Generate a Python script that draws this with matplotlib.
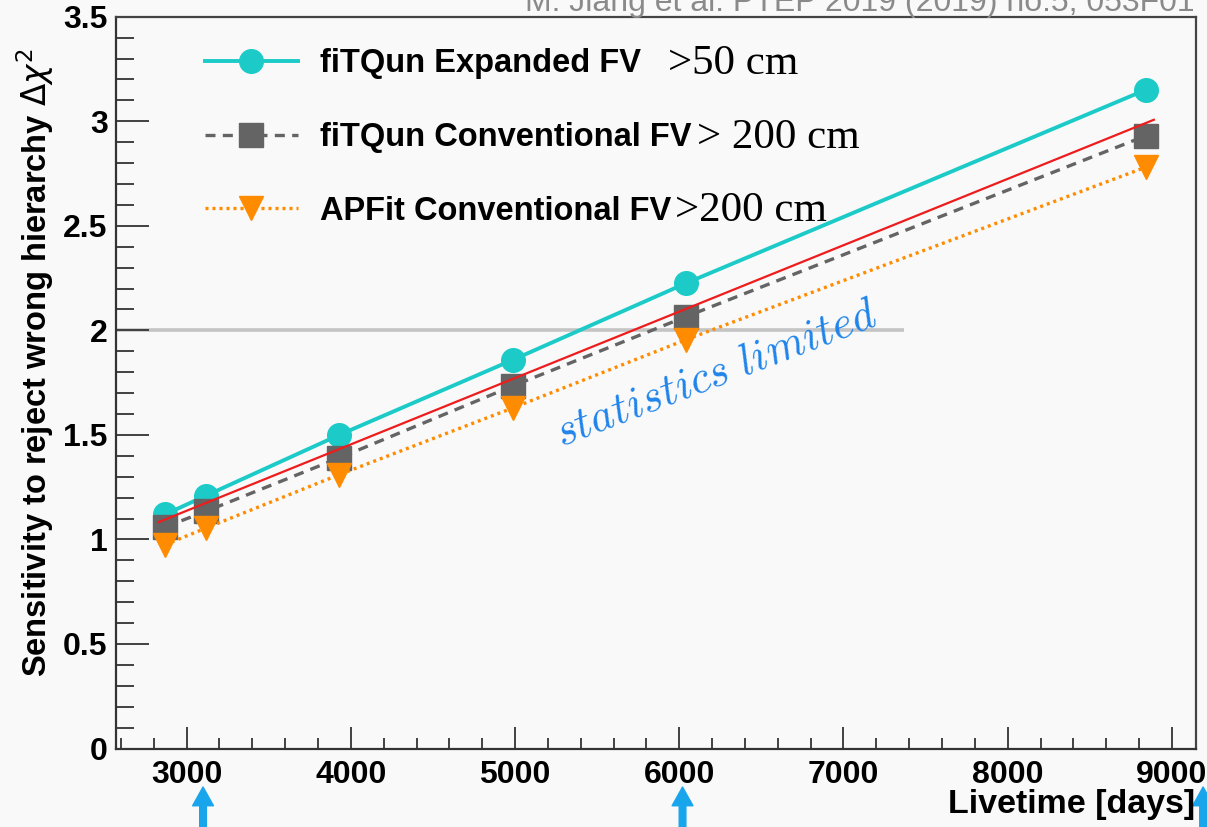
import matplotlib
matplotlib.use("Agg")
import matplotlib.pyplot as plt
from matplotlib.ticker import MultipleLocator
import matplotlib.transforms as mtransforms

# ---------------- data ----------------
livetime = [2870, 3120, 3930, 4990, 6040, 8840]
fitqun_expanded = [1.12, 1.21, 1.50, 1.86, 2.225, 3.15]
fitqun_conventional = [1.06, 1.135, 1.39, 1.735, 2.065, 2.93]
apfit_conventional = [0.975, 1.055, 1.31, 1.63, 1.955, 2.78]

red_line_x = [2830, 8890]
red_line_y = [1.083, 3.007]

threshold_y = 2.0
threshold_x_end = 7370

labels = ["fiTQun Expanded FV", "fiTQun Conventional FV", "APFit Conventional FV"]
label_suffix = [">50 cm", "> 200 cm", ">200 cm"]

arrow_x = [3100, 6020, 9190]

citation = "M. Jiang et al. PTEP 2019 (2019) no.5, 053F01"

# ---------------- figure ----------------
W, H = 1207, 827
bg = "#f9f9f9"
fig = plt.figure(figsize=(W / 100, H / 100), dpi=100, facecolor=bg)
ax = fig.add_axes([116 / W, 1 - 748.5 / H, (1195.7 - 116) / W, (748.5 - 16.7) / H])
ax.set_facecolor(bg)

sans = "Liberation Sans"
serif = "Liberation Serif"

cyan = "#1ccbc8"
grey = "#646464"
orange = "#ff8c00"

ax.hlines(threshold_y, 2570, threshold_x_end, color="#c4c4c4", lw=2.6, zorder=1)

l1, = ax.plot(livetime, fitqun_expanded, color=cyan, lw=2.8, marker="o", ms=17,
              mec=cyan, mfc=cyan, zorder=3)
l2, = ax.plot(livetime, fitqun_conventional, color=grey, lw=2.4, ls=(0, (3, 2.2)),
              marker="s", ms=17, mec=grey, mfc=grey, zorder=4)
l3, = ax.plot(livetime, apfit_conventional, color=orange, lw=2.4, ls=(0, (0.9, 1.2)),
              marker="v", ms=17, mec=orange, mfc=orange, zorder=5)
ax.plot(red_line_x, red_line_y, color="#ee1c1c", lw=1.6, zorder=6)

ax.set_xlim(2570, 9145)
ax.set_ylim(0, 3.5)

ax.xaxis.set_major_locator(MultipleLocator(1000))
ax.xaxis.set_minor_locator(MultipleLocator(200))
ax.yaxis.set_major_locator(MultipleLocator(0.5))
ax.yaxis.set_minor_locator(MultipleLocator(0.1))
ax.set_yticks([0, 0.5, 1, 1.5, 2, 2.5, 3, 3.5])
ax.set_yticklabels(["0", "0.5", "1", "1.5", "2", "2.5", "3", "3.5"])

ax.tick_params(axis="x", which="major", direction="in", length=16, width=1.3,
               color="#333333", pad=8)
ax.tick_params(axis="x", which="minor", direction="in", length=8, width=1.3,
               color="#333333")
ax.tick_params(axis="y", which="major", direction="in", length=24, width=1.3,
               color="#333333", pad=6)
ax.tick_params(axis="y", which="minor", direction="in", length=13, width=1.3,
               color="#333333")
for lab in ax.get_xticklabels() + ax.get_yticklabels():
    lab.set_fontfamily(sans)
    lab.set_fontweight("bold")
    lab.set_fontsize(23)

for s in ["left", "bottom"]:
    ax.spines[s].set_linewidth(1.6)
    ax.spines[s].set_color("#333333")
for s in ["top", "right"]:
    ax.spines[s].set_linewidth(1.6)
    ax.spines[s].set_color("#444444")

# axis titles
fig.text(35 / W, 1 - 48 / H, "Sensitivity to reject wrong hierarchy $\\Delta\\chi^2$",
         rotation=90, ha="center", va="top", fontsize=23.5, fontweight="bold",
         family=sans)
fig.text(1195 / W, 1 - 805 / H, "Livetime [days]", ha="right", va="center",
         fontsize=24.5, fontweight="bold", family=sans)

# legend
leg = ax.legend([l1, l2, l3], labels, loc="upper left",
                bbox_to_anchor=(0.0824, 0.957), frameon=False, borderpad=0,
                borderaxespad=0, handlelength=2.85, handletextpad=0.67,
                labelspacing=1.31, prop=dict(family=sans, weight="bold", size=23.5))
fig.canvas.draw()
renderer = fig.canvas.get_renderer()
gaps = [27, 6, 4]
for txt, suf, g in zip(leg.get_texts(), label_suffix, gaps):
    bb = txt.get_window_extent(renderer)
    fig.text((bb.x1 + g) / W, (bb.y0 + bb.y1) / 2 / H, suf, ha="left",
             va="center", fontsize=31, family=serif)

# annotation
ax.text(5280, 1.445, r"$\mathit{statistics\ limited}$", rotation=21,
        rotation_mode="anchor", fontsize=32, color="#1f84ea",
        math_fontfamily="cm", ha="left", va="baseline", zorder=7)

# citation (partly clipped at top)
fig.text(1195 / W, 1 - 11 / H, citation, ha="right", va="baseline",
         fontsize=23, color="#8a8a8a", family=sans)

# blue arrows below axis
trans = mtransforms.blended_transform_factory(ax.transData, fig.transFigure)
for xa in arrow_x:
    ax.annotate("", xy=(xa, 1 - 787 / H), xycoords=trans,
                xytext=(xa, -0.02), textcoords=trans,
                arrowprops=dict(arrowstyle="simple,head_length=0.9,head_width=1.0,tail_width=0.32",
                                color="#19a5ec", mutation_scale=15, shrinkA=0, shrinkB=0),
                annotation_clip=False)

fig.savefig("out.png", dpi=100, facecolor=bg)
